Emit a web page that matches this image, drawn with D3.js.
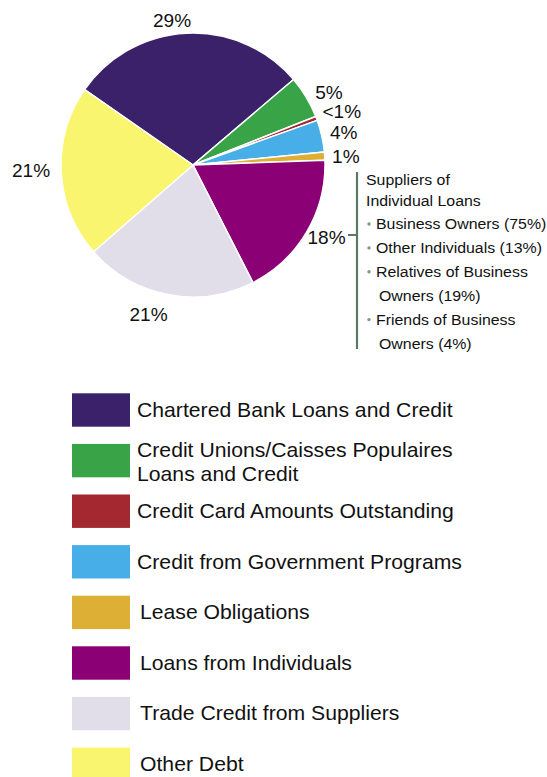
<!DOCTYPE html>
<html>
<head>
<meta charset="utf-8">
<script src="https://cdn.jsdelivr.net/npm/d3@7"></script>
<style>
  html, body { margin: 0; padding: 0; background: #ffffff; }
  svg { display: block; }
  text { font-family: "Liberation Sans", Arial, Helvetica, sans-serif; fill: #111111; }
</style>
</head>
<body>
<svg id="chart" width="547" height="777"></svg>
<script>
// Debt financing by source (share of total, %)
const categories = [
  "Chartered Bank Loans and Credit",
  "Credit Unions/Caisses Populaires Loans and Credit",
  "Credit Card Amounts Outstanding",
  "Credit from Government Programs",
  "Lease Obligations",
  "Loans from Individuals",
  "Trade Credit from Suppliers",
  "Other Debt"
];
const shares = [29, 5.2, 0.5, 3.9, 1, 18, 21, 21];
const shareLabels = ["29%", "5%", "<1%", "4%", "1%", "18%", "21%", "21%"];
const colors = ["#3a2169", "#39a348", "#a4282f", "#47aee8", "#ddaf34", "#8b0075", "#e1dee9", "#f9f56e"];

// Legend wording (wrapped lines)
const legendLines = [
  ["Chartered Bank Loans and Credit"],
  ["Credit Unions/Caisses Populaires", "Loans and Credit"],
  ["Credit Card Amounts Outstanding"],
  ["Credit from Government Programs"],
  ["Lease Obligations"],
  ["Loans from Individuals"],
  ["Trade Credit from Suppliers"],
  ["Other Debt"]
];

// Breakdown of loans from individuals
const supplierTitle = ["Suppliers of", "Individual Loans"];
const supplierItems = [
  ["Business Owners (75%)"],
  ["Other Individuals (13%)"],
  ["Relatives of Business", "Owners (19%)"],
  ["Friends of Business", "Owners (4%)"]
];

const svg = d3.select("#chart");
const cx = 193, cy = 165, radius = 132;
const deg = Math.PI / 180;
const stretch = 1.06; // slightly wide lettering

// Places a text element at (x, y) with the wide lettering
function placeText(sel, x, y) {
  return sel.attr("transform", `translate(${x},${y}) scale(${stretch},1)`);
}

const pie = d3.pie()
  .sort(null)
  .value(d => d)
  .startAngle(-55.2 * deg)
  .endAngle(304.8 * deg);

const arcs = pie(shares);
const arc = d3.arc().innerRadius(0).outerRadius(radius);

const g = svg.append("g").attr("transform", `translate(${cx},${cy})`);

g.selectAll("path.slice")
  .data(arcs)
  .join("path")
  .attr("class", "slice")
  .attr("d", arc)
  .attr("fill", (d, i) => colors[i])
  .attr("stroke", "#ffffff")
  .attr("stroke-width", 1.5)
  .attr("stroke-linejoin", "round");

// Percentage labels sit on a ring outside the pie, nudged where slices crowd
const labelArc = d3.arc().innerRadius(153).outerRadius(153);
const labelNudge = [[-13.5, 8.3], [4.8, 6.6], [5.6, 0.9], [1.5, 1.6], [0.2, 1.6], [1.7, -4.9], [-15.4, -1], [-9.2, -3.3]];

g.selectAll("text.pct")
  .data(arcs)
  .join("text")
  .attr("class", "pct")
  .each(function(d, i) {
    const c = labelArc.centroid(d);
    placeText(d3.select(this), c[0] + labelNudge[i][0], c[1] + labelNudge[i][1]);
  })
  .attr("text-anchor", "middle")
  .attr("dy", "0.36em")
  .attr("font-size", 18)
  .text((d, i) => shareLabels[i]);

// Bracket and breakdown for loans from individuals
const bracketColor = "#5b7a64";
const ann = svg.append("g");
ann.append("line")
  .attr("x1", 357).attr("x2", 357)
  .attr("y1", 172).attr("y2", 349)
  .attr("stroke", bracketColor).attr("stroke-width", 2.2);
ann.append("line")
  .attr("x1", 348).attr("x2", 357)
  .attr("y1", 235).attr("y2", 235)
  .attr("stroke", bracketColor).attr("stroke-width", 2);

const annFont = 15;
supplierTitle.forEach((t, i) => {
  placeText(ann.append("text"), 366, 185 + i * 20.5)
    .attr("font-size", annFont)
    .text(t);
});
let lineY = 229;
supplierItems.forEach(item => {
  item.forEach((t, j) => {
    if (j === 0) {
      ann.append("circle")
        .attr("cx", 369).attr("cy", lineY - 5)
        .attr("r", 1.7)
        .attr("fill", "#7a9a84");
    }
    placeText(ann.append("text"), j === 0 ? 376 : 379, lineY)
      .attr("font-size", annFont)
      .text(t);
    lineY += 23.9;
  });
});

// Legend
const legend = svg.append("g");
const sw = { x: 72, y0: 393.3, w: 58, h: 33.4, step: 50.6 };
const rows = legend.selectAll("g.row")
  .data(categories)
  .join("g")
  .attr("class", "row")
  .attr("transform", (d, i) => `translate(0,${sw.y0 + i * sw.step})`);

rows.append("rect")
  .attr("x", sw.x).attr("y", 0)
  .attr("width", sw.w).attr("height", sw.h)
  .attr("fill", (d, i) => colors[i]);

rows.each(function(d, i) {
  const lines = legendLines[i];
  const row = d3.select(this);
  const x = i < 4 ? 137 : 140;
  const firstBaseline = lines.length > 1 ? 13.5 : 23.5;
  lines.forEach((t, j) => {
    placeText(row.append("text"), x, firstBaseline + j * 23.3)
      .attr("font-size", 20)
      .text(t);
  });
});
</script>
</body>
</html>
